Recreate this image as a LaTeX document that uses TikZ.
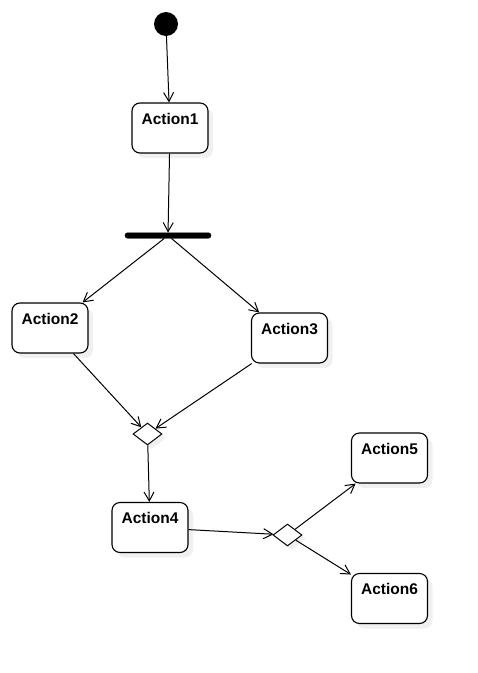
\documentclass[tikz,border=0pt]{standalone}
\usepackage{fontspec}
\setmainfont{Liberation Sans}
\usetikzlibrary{arrows.meta, positioning, shapes.geometric, shadows}

\begin{document}
\begin{tikzpicture}[x=1pt, y=-1pt,
  act/.style={draw, line width=1.1pt, rounded corners=8pt, fill=white,
              minimum width=76pt, minimum height=50pt, inner ysep=6pt,
              text height=15pt, text depth=23pt,
              font=\fontsize{15.5}{18}\selectfont\bfseries,
              drop shadow={opacity=0.12, shadow xshift=5pt, shadow yshift=-5pt}},
  dec/.style={draw, diamond, fill=white, line width=1pt, aspect=1.3,
              minimum width=29pt, minimum height=22pt, inner sep=0pt,
              drop shadow={opacity=0.12, shadow xshift=4pt, shadow yshift=-4pt}},
  fl/.style={-{Straight Barb[length=9pt, width=10pt]}, line width=1pt}
]
\useasboundingbox (0,0) rectangle (478,673);

\node[circle, fill=black, minimum size=24pt, inner sep=0pt] (init) at (166,24) {};
\node[act] (a1) at (170,128) {Action1};
\node[draw, fill=black, rounded corners=2.5pt, minimum width=86pt,
      minimum height=5.5pt, inner sep=0pt] (fork) at (168,235.5) {};
\node[act] (a2) at (50,328) {Action2};
\node[act] (a3) at (289.5,338) {Action3};
\node[dec] (m1) at (147.5,434) {};
\node[act] (a4) at (150,527.5) {Action4};
\node[dec] (m2) at (287.5,535) {};
\node[act] (a5) at (389.5,458) {Action5};
\node[act] (a6) at (389.5,598.5) {Action6};

\draw[fl] (init) -- (a1);
\draw[fl] (a1) -- (fork);
\draw[fl] (fork) -- (a2);
\draw[fl] (fork) -- (a3);
\draw[fl] (a2) -- (m1);
\draw[fl] (a3) -- (m1);
\draw[fl] (m1) -- (a4);
\draw[fl] (a4) -- (m2);
\draw[fl] (m2) -- (a5);
\draw[fl] (m2) -- (a6);
\end{tikzpicture}
\end{document}
